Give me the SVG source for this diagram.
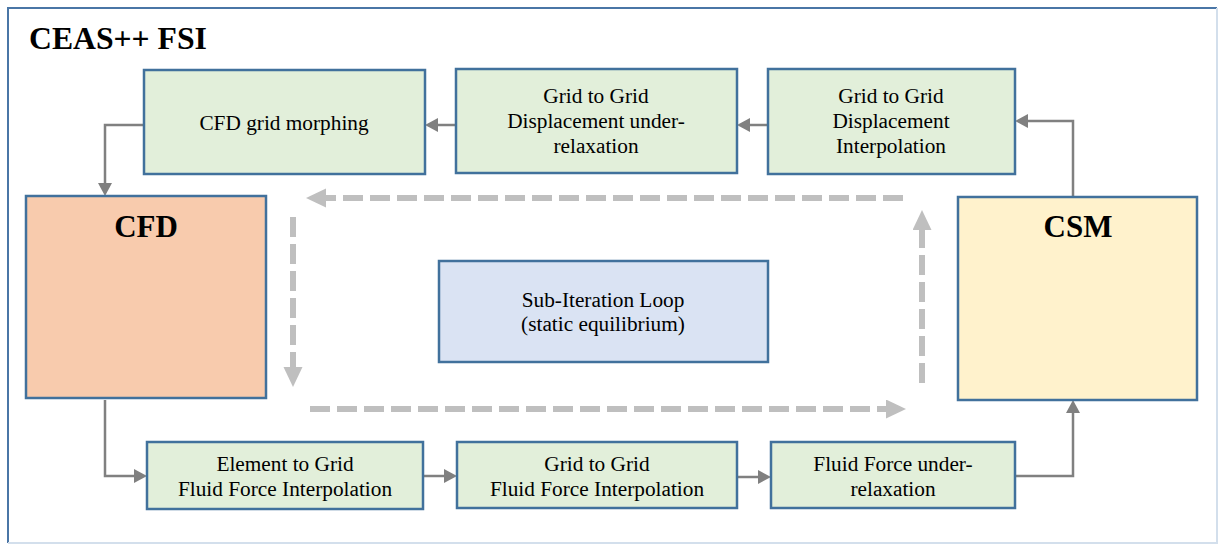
<svg xmlns="http://www.w3.org/2000/svg" width="1219" height="545" viewBox="0 0 1219 545" font-family="Liberation Serif, Times New Roman, DejaVu Serif, serif">
<style>
text{font-family:'Liberation Serif','Times New Roman','DejaVu Serif',serif;fill:#000;text-anchor:middle}
.t{font-size:21.3px}
.b{font-size:31px;font-weight:bold}
.g{fill:#e2efda;stroke:#41719c;stroke-width:2.5}
.c{stroke:#808080;stroke-width:2.5;fill:none}
.d{stroke:#bfbfbf;stroke-width:6;fill:none;stroke-dasharray:20 7}
</style>
<defs>
<marker id="ah" markerUnits="userSpaceOnUse" markerWidth="14" markerHeight="14" refX="0" refY="7" orient="auto"><path d="M0,0 L13,7 L0,14 z" fill="#808080"/></marker>
<marker id="dh" markerUnits="userSpaceOnUse" markerWidth="22" markerHeight="20" refX="0" refY="9.5" orient="auto"><path d="M0,0 L20,9.5 L0,19 z" fill="#bfbfbf"/></marker>
</defs>
<rect width="1219" height="545" fill="#fff"/>
<g id="frame">
<path d="M8,543 V8 H1217" fill="none" stroke="#4a76a6" stroke-width="2"/>
<path d="M1217,8 V543 H8" fill="none" stroke="#d3dfec" stroke-width="2"/>
<text x="29" y="49" style="text-anchor:start;font-size:31.7px;font-weight:bold">CEAS++ FSI</text>
</g>
<g id="connectors">
<path class="c" d="M144,125 H105 V183" marker-end="url(#ah)"/>
<path class="c" d="M456,125 H438" marker-end="url(#ah)"/>
<path class="c" d="M768,125 H750" marker-end="url(#ah)"/>
<path class="c" d="M1073,197 V121 H1028" marker-end="url(#ah)"/>
<path class="c" d="M105,400 V476 H134" marker-end="url(#ah)"/>
<path class="c" d="M423,476 H444" marker-end="url(#ah)"/>
<path class="c" d="M737,477 H758" marker-end="url(#ah)"/>
<path class="c" d="M1015,476 H1073 V413" marker-end="url(#ah)"/>
<path class="d" d="M903,198 H326" marker-end="url(#dh)"/>
<path class="d" d="M293,217 V367" marker-end="url(#dh)"/>
<path class="d" d="M310,409 H886" marker-end="url(#dh)"/>
<path class="d" d="M922,383 V230" marker-end="url(#dh)"/>
</g>
<g id="morph">
<rect class="g" x="144" y="70" width="281" height="104"/>
<text class="t" x="284" y="130">CFD grid morphing</text>
</g>
<g id="disp-relax">
<rect class="g" x="456" y="69" width="281" height="104"/>
<text class="t" x="596" y="103">Grid to Grid</text>
<text class="t" x="596" y="128">Displacement under-</text>
<text class="t" x="596" y="153">relaxation</text>
</g>
<g id="disp-interp">
<rect class="g" x="768" y="69" width="247" height="105"/>
<text class="t" x="891" y="103">Grid to Grid</text>
<text class="t" x="891" y="128">Displacement</text>
<text class="t" x="891" y="153">Interpolation</text>
</g>
<g id="cfd">
<rect x="26" y="196" width="240" height="202" fill="#f8cbad" stroke="#41719c" stroke-width="2.5"/>
<text class="b" x="146" y="237">CFD</text>
</g>
<g id="csm">
<rect x="958" y="197" width="239" height="203" fill="#fff2cc" stroke="#41719c" stroke-width="2.5"/>
<text class="b" x="1078" y="237">CSM</text>
</g>
<g id="loop">
<rect x="439" y="261" width="329" height="101" fill="#dae3f3" stroke="#41719c" stroke-width="2.5"/>
<text class="t" x="603" y="307">Sub-Iteration Loop</text>
<text class="t" x="603" y="331">(static equilibrium)</text>
</g>
<g id="e2g">
<rect class="g" x="147" y="442" width="276" height="67"/>
<text class="t" x="285" y="471">Element to Grid</text>
<text class="t" x="285" y="496">Fluid Force Interpolation</text>
</g>
<g id="g2g">
<rect class="g" x="457" y="442" width="280" height="66"/>
<text class="t" x="597" y="471">Grid to Grid</text>
<text class="t" x="597" y="496">Fluid Force Interpolation</text>
</g>
<g id="force-relax">
<rect class="g" x="771" y="442" width="244" height="66"/>
<text class="t" x="893" y="471">Fluid Force under-</text>
<text class="t" x="893" y="496">relaxation</text>
</g>
</svg>
